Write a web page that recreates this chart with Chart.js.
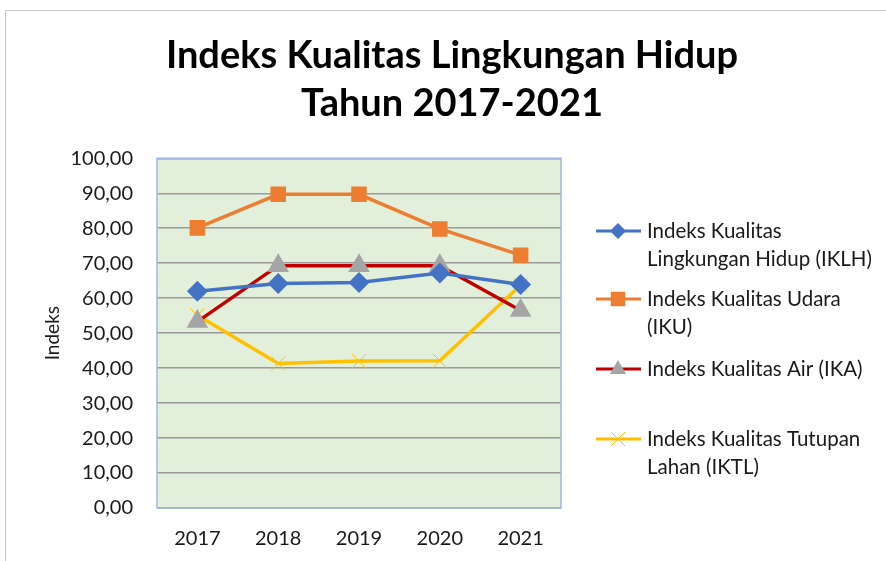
<!DOCTYPE html>
<html><head><meta charset="utf-8">
<script src="https://cdn.jsdelivr.net/npm/chart.js@4"></script>
<style>html,body{margin:0;padding:0;background:#fff}#wrap{width:886px;height:561px;position:relative}</style>
</head><body><div id="wrap"><canvas id="c" width="886" height="561"></canvas></div>
<script>
const categories = ['2017','2018','2019','2020','2021'];
const iklh = [62.0, 64.2, 64.5, 67.2, 63.9];
const iku  = [80.1, 89.7, 89.7, 79.8, 72.3];
const ika  = [53.3, 69.3, 69.3, 69.3, 56.5];
const iktl = [55.1, 41.3, 42.0, 42.1, 63.7];
const seriesLabels = ['Indeks Kualitas Lingkungan Hidup (IKLH)','Indeks Kualitas Udara (IKU)','Indeks Kualitas Air (IKA)','Indeks Kualitas Tutupan Lahan (IKTL)'];
const legendLines = [['Indeks Kualitas','Lingkungan Hidup (IKLH)'],['Indeks Kualitas Udara','(IKU)'],['Indeks Kualitas Air (IKA)'],['Indeks Kualitas Tutupan','Lahan (IKTL)']];
const titleLines = ['Indeks Kualitas Lingkungan Hidup','Tahun 2017-2021'];
const yTitle = 'Indeks';

const FONT = 'Lato, "Liberation Sans", sans-serif';
const TXT = '#1a1a1a';

const bgPlugin = {
  id:'bg',
  beforeDraw(chart){
    const {ctx, chartArea:a} = chart;
    ctx.save();
    ctx.fillStyle='#fff'; ctx.fillRect(0,0,chart.width,chart.height);
    ctx.strokeStyle='#c8c8c8'; ctx.lineWidth=1;
    ctx.strokeRect(5.5,10.5,900,600);
    ctx.fillStyle='#E2EFDA';
    ctx.fillRect(a.left,a.top,a.right-a.left,a.bottom-a.top);
    ctx.restore();
  },
  afterDatasetsDraw(chart){
    const {ctx, chartArea:a} = chart;
    ctx.save();
    ctx.strokeStyle='#9FB6E6'; ctx.lineWidth=1.5;
    ctx.strokeRect(a.left,a.top,a.right-a.left,a.bottom-a.top);
    ctx.restore();
  }
};

const legendPlugin = {
  id:'customLegend',
  afterDraw(chart){
    const ctx = chart.ctx;
    const ys = [231, 299, 369, 439];
    ctx.save();
    chart.data.datasets.forEach((ds,i)=>{
      const y = ys[i];
      ctx.strokeStyle = ds.borderColor; ctx.lineWidth = 3; ctx.lineCap='butt';
      ctx.beginPath(); ctx.moveTo(596,y); ctx.lineTo(641,y); ctx.stroke();
      ctx.fillStyle = ds.pointBackgroundColor; ctx.strokeStyle = ds.pointBorderColor;
      ctx.lineWidth = ds.pointBorderWidth || 1;
      const cx=618, r=ds.pointRadius;
      ctx.beginPath();
      if(ds.pointStyle==='rectRot'){ctx.moveTo(cx,y-r);ctx.lineTo(cx+r,y);ctx.lineTo(cx,y+r);ctx.lineTo(cx-r,y);ctx.closePath();ctx.fill();}
      else if(ds.pointStyle==='rect'){const s=r*0.85;ctx.rect(cx-s,y-s,2*s,2*s);ctx.fill();}
      else if(ds.pointStyle==='triangle'){ctx.moveTo(cx,y-r);ctx.lineTo(cx+r*0.9,y+r*0.55);ctx.lineTo(cx-r*0.9,y+r*0.55);ctx.closePath();ctx.fill();}
      else if(ds.pointStyle==='crossRot'){const s=r*0.7;ctx.moveTo(cx-s,y-s);ctx.lineTo(cx+s,y+s);ctx.moveTo(cx+s,y-s);ctx.lineTo(cx-s,y+s);ctx.stroke();}
      ctx.fillStyle=TXT; ctx.font='20.5px '+FONT; ctx.textBaseline='middle'; ctx.textAlign='left';
      legendLines[i].forEach((t,k)=>ctx.fillText(t,647,y+k*28));
    });
    ctx.restore();
  }
};

new Chart(document.getElementById('c'), {
  type:'line',
  data:{
    labels:categories,
    datasets:[
      {label:seriesLabels[0],data:iklh,borderColor:'#4472C4',backgroundColor:'#4472C4',pointBackgroundColor:'#4472C4',pointBorderColor:'#4472C4',pointStyle:'rectRot',pointRadius:8,borderWidth:3.5},
      {label:seriesLabels[1],data:iku,borderColor:'#ED7D31',backgroundColor:'#ED7D31',pointBackgroundColor:'#ED7D31',pointBorderColor:'#ED7D31',pointStyle:'rect',pointRadius:8.5,borderWidth:3.5},
      {label:seriesLabels[2],data:ika,borderColor:'#C00000',backgroundColor:'#A5A5A5',pointBackgroundColor:'#A5A5A5',pointBorderColor:'#A5A5A5',pointStyle:'triangle',pointRadius:9,borderWidth:3.5},
      {label:seriesLabels[3],data:iktl,borderColor:'#FFC000',backgroundColor:'#FFC000',pointBackgroundColor:'#FFC000',pointBorderColor:'#FFC000',pointBorderWidth:1,pointStyle:'crossRot',pointRadius:10,borderWidth:3.5}
    ]
  },
  options:{
    responsive:false, animation:false,
    layout:{padding:{left:18,right:0,top:0,bottom:0}},
    plugins:{
      legend:{display:false},
      tooltip:{enabled:false},
      title:{display:true,text:titleLines,color:'#000',font:{family:FONT,size:38,weight:'bold',lineHeight:1.28},padding:{top:31,bottom:30}}
    },
    scales:{
      x:{
        offset:true,
        grid:{display:false,drawTicks:false},
        border:{display:false},
        ticks:{color:TXT,font:{family:FONT,size:20},padding:19},
        afterFit(s){s.height=53;}
      },
      y:{
        min:0,max:100,
        ticks:{stepSize:10,color:TXT,font:{family:FONT,size:20},padding:24,callback:v=>v.toFixed(2).replace('.',',')},
        grid:{color:'#9a9a9a',lineWidth:1.5,drawTicks:false},
        border:{display:false},
        title:{display:true,text:yTitle,color:TXT,font:{family:FONT,size:19},padding:{top:23,bottom:0}},
        afterFit(s){s.width=139;}
      },
      yR:{
        position:'right',display:true,
        grid:{display:false,drawTicks:false},border:{display:false},
        ticks:{display:false},
        afterFit(s){s.width=325;}
      }
    }
  },
  plugins:[bgPlugin,legendPlugin]
});
</script></body></html>
